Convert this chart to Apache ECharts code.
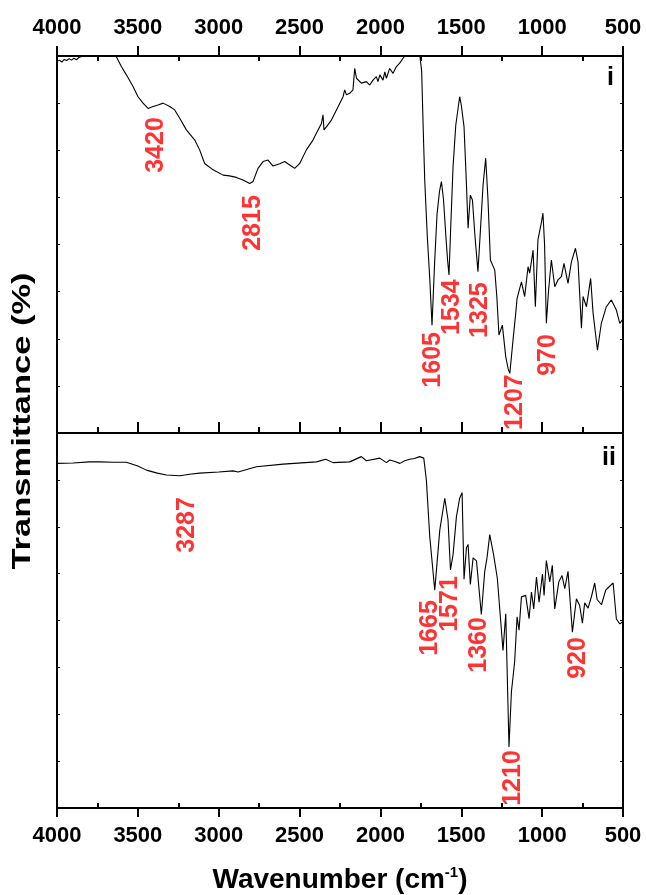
<!DOCTYPE html>
<html>
<head>
<meta charset="utf-8">
<script src="https://cdn.jsdelivr.net/npm/echarts@6/dist/echarts.min.js"></script>
<style>html,body{margin:0;padding:0;background:#fff}#c{width:646px;height:895px}</style>
</head>
<body>
<div id="c"></div>
<script>
// Tick labels of the wavenumber axis
var xTicks = [4000, 3500, 3000, 2500, 2000, 1500, 1000, 500];

// Spectrum i (top panel): wavenumber (cm-1) and transmittance (arbitrary %, panel scale 0-100)
var wnTop = [4000,3985,3970,3955,3940,3925,3910,3895,3880,3865,3850,3835,3800,3750,3700,3650,3633,3602,3571,3530,3499,3468,3437,3406,3375,3344,3303,3272,3241,3200,3148,3118,3087,3035,2973,2933,2891,2850,2808,2788,2757,2726,2695,2664,2623,2592,2561,2530,2499,2458,2417,2396,2365,2355,2349,2334,2303,2272,2231,2221,2210,2190,2170,2159,2148,2118,2087,2066,2046,2025,2015,2004,1984,1973,1963,1943,1922,1901,1881,1860,1840,1800,1760,1750,1745,1735,1726,1710,1695,1681,1665,1650,1635,1623,1610,1595,1585,1576,1565,1551,1534,1520,1510,1500,1483,1470,1458,1444,1431,1415,1397,1380,1365,1349,1335,1320,1293,1280,1267,1246,1225,1210,1200,1180,1165,1155,1128,1108,1087,1077,1056,1042,1026,1004,995,985,974,960,943,922,902,881,865,840,819,794,778,757,747,726,700,685,658,634,603,572,541,520,504];
var tTop = [98.5,98.9,98.4,99.1,98.8,99.3,98.9,99.4,99.0,99.6,99.9,100.3,101.5,102.5,102.0,100.5,99.8,97.2,95.0,91.9,89.2,87.5,86.1,86.6,87.0,87.5,86.6,85.7,83.5,80.4,77.7,75.1,71.5,69.8,68.4,68.2,67.8,67.1,66.2,66.7,70.2,72.0,72.4,70.8,71.4,72.0,71.1,70.2,71.5,75.1,77.7,79.5,82.1,84.4,80.4,81.2,83.0,85.7,89.2,91.0,89.7,90.1,91.0,96.7,94.1,92.8,93.2,92.3,93.6,94.5,93.2,95.0,93.6,95.8,94.1,96.7,95.4,97.2,98.1,99.4,100.5,101.5,101.5,101.0,96.0,80.0,67.0,52.0,41.0,28.6,45.0,58.0,64.0,66.7,62.0,52.0,46.0,41.9,55.0,70.6,81.7,86.0,89.2,87.0,81.2,68.0,54.3,63.1,61.8,52.0,42.8,55.0,66.0,72.9,62.0,45.9,43.2,36.0,26.0,28.6,20.2,17.0,15.8,24.7,31.0,35.7,40.1,36.2,44.1,42.4,48.5,33.5,51.2,56.0,58.3,50.0,29.1,38.0,45.9,38.8,40.6,41.5,45.0,39.7,45.4,49.0,45.4,27.8,36.2,33.5,41.0,31.8,22.0,29.1,33.5,35.3,32.6,29.1,30.0];

// Spectrum ii (bottom panel)
var wnBot = [4000,3994,3900,3800,3736,3650,3571,3500,3447,3380,3323,3241,3180,3118,3000,2912,2880,2767,2602,2396,2338,2293,2190,2118,2087,2004,1963,1942,1910,1880,1850,1819,1790,1757,1732,1716,1695,1664,1633,1602,1582,1567,1551,1530,1510,1495,1483,1468,1458,1444,1427,1406,1376,1355,1341,1324,1300,1277,1242,1225,1205,1190,1170,1155,1143,1128,1102,1081,1066,1052,1035,1019,998,988,974,953,937,922,897,877,860,840,813,788,768,751,737,716,695,675,660,633,607,586,561,541,520,504];
var tBot = [91.9,91.9,92.0,92.3,92.3,92.2,92.2,91.2,90.1,89.3,88.8,88.6,89.0,89.3,89.6,89.9,89.6,91.0,91.7,92.3,93.0,92.1,92.3,93.7,92.6,93.3,92.1,92.8,92.4,91.9,92.6,93.0,93.2,93.7,93.3,87.5,72.4,58.1,74.1,82.6,76.8,63.5,67.5,77.7,82.6,84.1,61.0,69.4,70.3,59.6,66.7,65.9,51.6,63.1,66.7,72.9,67.5,61.2,42.0,51.8,16.3,31.0,39.0,51.0,47.4,56.3,56.7,50.5,57.6,53.1,61.6,54.9,62.4,56.7,66.0,60.3,64.7,53.1,60.3,62.0,58.5,63.1,46.9,55.8,54.0,49.3,54.7,53.3,56.4,60.0,55.6,54.2,58.1,59.0,60.0,50.4,49.1,49.6];

// Peak annotations: text, wavenumber, transmittance (label centre)
var annTopText = ['3420','2815','1605','1534','1325','1207','970'];
var annTopX    = [3385, 2790, 1677, 1559, 1386, 1170, 966];
var annTopY    = [76.4, 55.7, 19.4, 33.4, 32.6, 8.2, 20.7];
var annBotText = ['3287','1665','1571','1360','1210','920'];
var annBotX    = [3198, 1695, 1571, 1392, 1182, 780];
var annBotY    = [75.5, 48.0, 54.4, 43.5, 8.0, 40.0];

var FONT = '"Liberation Sans", Arial, Helvetica, sans-serif';

function pairs(xs, ys) { return xs.map(function (x, i) { return [x, ys[i]]; }); }
function annPairs(t, xs, ys) { return t.map(function (s, i) { return [xs[i], ys[i], s]; }); }

var chart = echarts.init(document.getElementById('c'), null, {renderer: 'canvas'});

var R0 = {left: 57, top: 56, width: 566, height: 377};
var R1 = {left: 57, top: 433, width: 566, height: 375};
// grids 2 and 3 overlay 0 and 1 and only carry the inward minor ticks
var grids = [R0, R1, Object.assign({}, R0), Object.assign({}, R1)];

var tickLabel = {show: true, margin: 17, color: '#000', fontSize: 22, fontWeight: 'bold', fontFamily: FONT,
  formatter: function (v) { return xTicks.indexOf(v) >= 0 ? String(v) : ''; }};

function xBase(grid, pos) {
  return {
    type: 'value', gridIndex: grid, position: pos, inverse: true,
    min: 500, max: 4000, interval: 500,
    splitLine: {show: false},
    axisLine: {show: true, onZero: false, lineStyle: {color: '#000', width: 2}},
    axisTick: {show: false},
    axisLabel: {show: false},
    minorTick: {show: false}
  };
}

var xAxes = [];
var a0 = xBase(0, 'top');
a0.axisTick = {show: true, inside: false, length: 10, lineStyle: {color: '#000', width: 2}};
a0.axisLabel = tickLabel;
xAxes.push(a0);
var a1 = xBase(0, 'bottom');
a1.axisTick = {show: true, inside: true, length: 11, lineStyle: {color: '#000', width: 2}};
a1.minorTick = {show: true, splitNumber: 2, length: 6, lineStyle: {color: '#000', width: 2}};
xAxes.push(a1);
xAxes.push(xBase(1, 'top'));
var a3 = xBase(1, 'bottom');
a3.axisTick = {show: true, inside: false, length: 9, lineStyle: {color: '#000', width: 2}};
a3.axisLabel = tickLabel;
a3.name = '{a|Wavenumber (cm}{s|-1}{a|)}';
a3.nameLocation = 'middle';
a3.nameGap = 57;
a3.nameTextStyle = {rich: {
  a: {fontSize: 28, fontWeight: 'bold', fontFamily: FONT, color: '#000', lineHeight: 30},
  s: {fontSize: 15, fontWeight: 'bold', fontFamily: FONT, color: '#000', verticalAlign: 'top', lineHeight: 30, padding: [0, 0, 14, 0]}
}};
xAxes.push(a3);
var a4 = xBase(2, 'top');
a4.axisLine = {show: false, onZero: false};
a4.axisTick = {show: false, inside: true};
a4.minorTick = {show: true, splitNumber: 2, length: 5, lineStyle: {color: '#000', width: 2}};
xAxes.push(a4);
var a5 = xBase(3, 'bottom');
a5.axisLine = {show: false, onZero: false};
a5.axisTick = {show: false, inside: true};
a5.minorTick = {show: true, splitNumber: 2, length: 5, lineStyle: {color: '#000', width: 2}};
xAxes.push(a5);

function yBase(grid, pos, visible) {
  return {
    type: 'value', gridIndex: grid, position: pos, min: 0, max: 100, interval: 12.5, show: visible,
    splitLine: {show: false},
    axisLine: {show: true, onZero: false, lineStyle: {color: '#000', width: 2}},
    axisTick: {show: true, inside: true, length: 3, lineStyle: {color: '#000', width: 1}},
    axisLabel: {show: false}
  };
}
var yAxes = [yBase(0, 'left', true), yBase(0, 'right', true), yBase(1, 'left', true), yBase(1, 'right', true),
             yBase(2, 'left', false), yBase(3, 'left', false)];

var annLabel = {
  show: true, position: 'inside', rotate: 90, color: '#ff0000',
  fontSize: 25, fontWeight: 'bold', fontFamily: FONT,
  formatter: function (p) { return p.data[2]; }
};

var option = {
  backgroundColor: '#fff',
  animation: false,
  grid: grids,
  xAxis: xAxes,
  yAxis: yAxes,
  series: [
    {type: 'line', name: 'i', xAxisIndex: 0, yAxisIndex: 0, data: pairs(wnTop, tTop),
     showSymbol: false, symbol: 'none', clip: true, lineStyle: {color: '#000', width: 1.1}},
    {type: 'line', name: 'ii', xAxisIndex: 3, yAxisIndex: 2, data: pairs(wnBot, tBot),
     showSymbol: false, symbol: 'none', clip: true, lineStyle: {color: '#000', width: 1.1}},
    {type: 'scatter', xAxisIndex: 0, yAxisIndex: 0, data: annPairs(annTopText, annTopX, annTopY),
     symbolSize: 0, clip: false, label: annLabel, z: 5},
    {type: 'scatter', xAxisIndex: 3, yAxisIndex: 2, data: annPairs(annBotText, annBotX, annBotY),
     symbolSize: 0, clip: false, label: annLabel, z: 5}
  ],
  graphic: [
    {type: 'text', x: 23, y: 421, rotation: Math.PI / 2, scaleX: 1.38,
     style: {text: 'Transmittance (%)', fill: '#000', fontSize: 25, fontWeight: 'bold', fontFamily: FONT,
       align: 'center', verticalAlign: 'middle', textAlign: 'center', textVerticalAlign: 'middle'}},
    {type: 'text', x: 614, y: 78,
     style: {text: 'i', fill: '#000', fontSize: 25, fontWeight: 'bold', fontFamily: FONT,
       align: 'right', verticalAlign: 'middle', textAlign: 'right', textVerticalAlign: 'middle'}},
    {type: 'text', x: 616, y: 458,
     style: {text: 'ii', fill: '#000', fontSize: 25, fontWeight: 'bold', fontFamily: FONT,
       align: 'right', verticalAlign: 'middle', textAlign: 'right', textVerticalAlign: 'middle'}}
  ]
};
chart.setOption(option);
</script>
</body>
</html>
